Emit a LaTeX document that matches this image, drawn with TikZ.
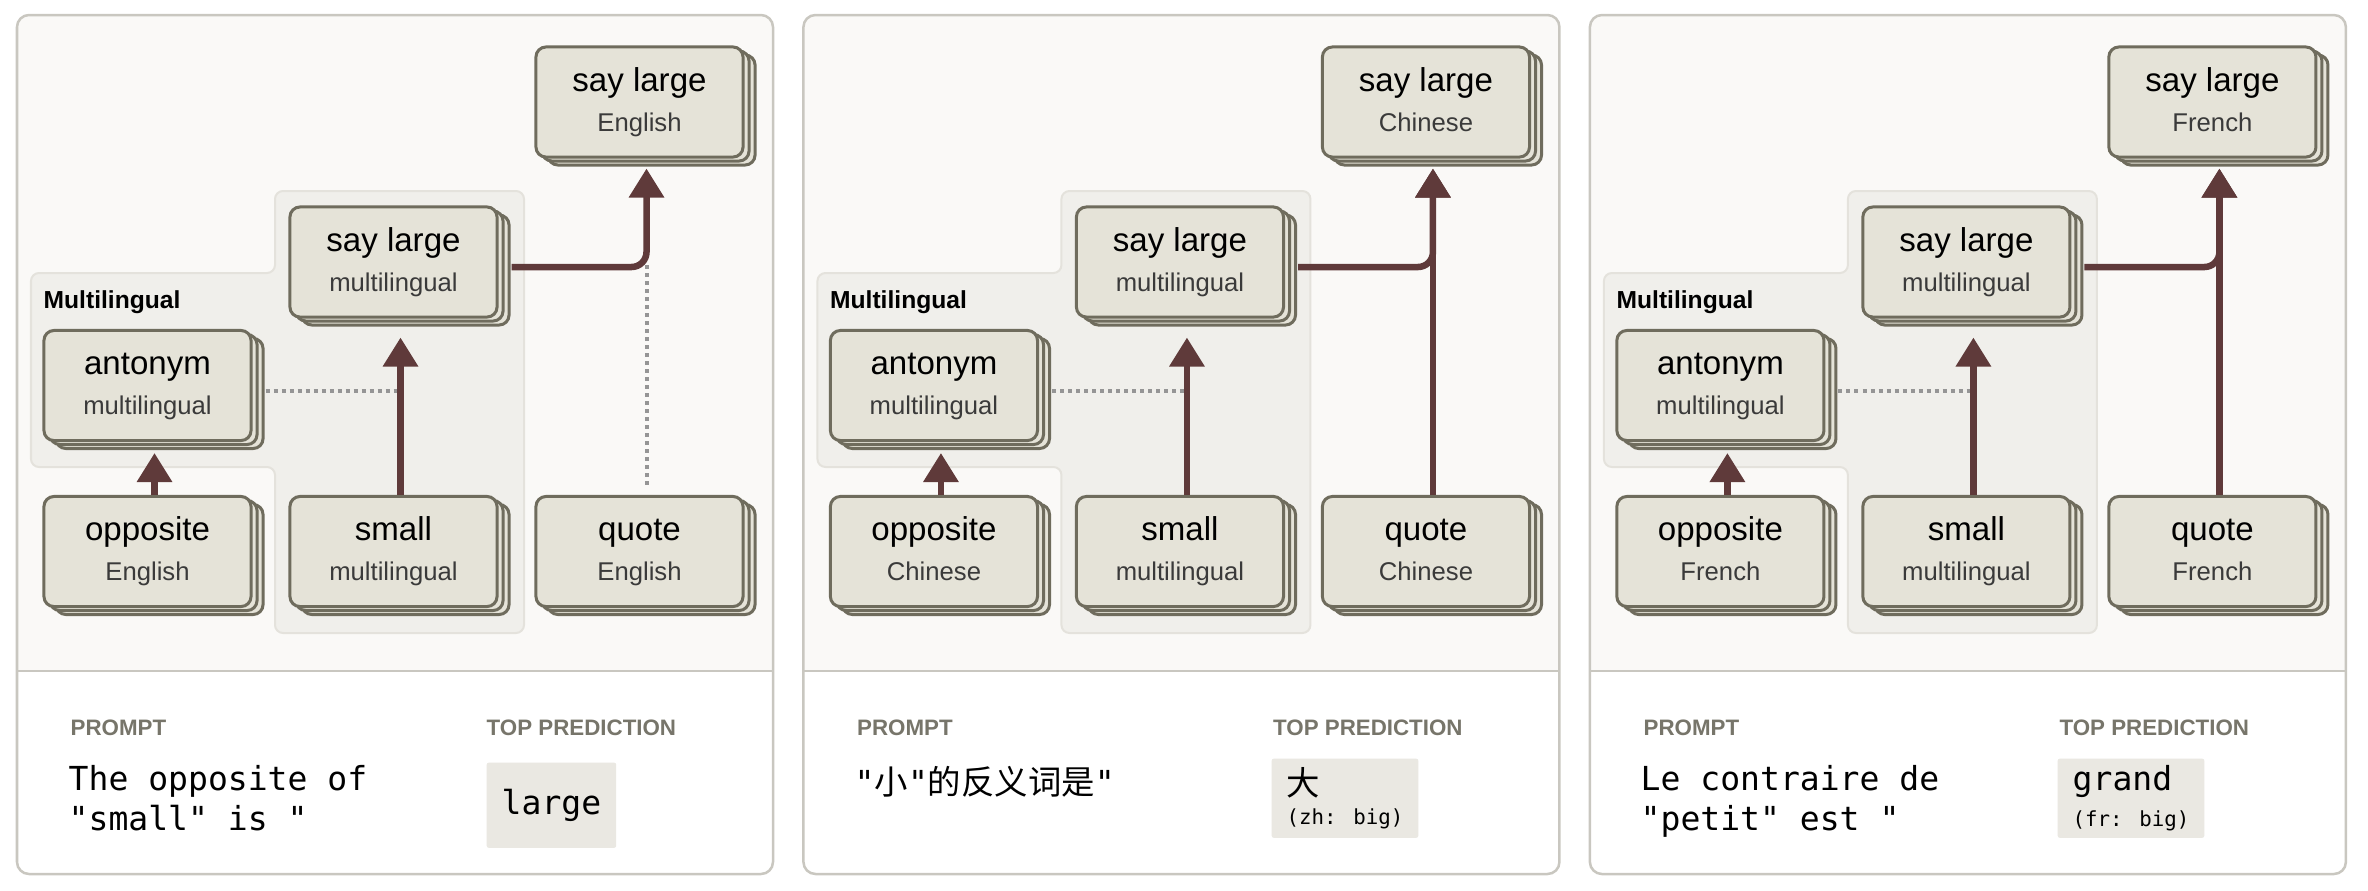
\documentclass[tikz,border=0pt]{standalone}
\usepackage{fontspec}
\usepackage{tikz}
\usetikzlibrary{arrows.meta,shadows}
\setmainfont{Liberation Sans}
\newfontfamily\promptfont{DejaVu Sans Mono}
\newfontfamily\cjkfont{Noto Sans CJK SC}

\definecolor{panelbg}{HTML}{FAF9F7}
\definecolor{framec}{HTML}{C9C7C0}
\definecolor{groupfill}{HTML}{F0EFEB}
\definecolor{groupline}{HTML}{E4E2DC}
\definecolor{boxfill}{HTML}{E5E3D8}
\definecolor{boxline}{HTML}{6F6C5D}
\definecolor{subtext}{HTML}{3A3A3A}
\definecolor{arrowc}{HTML}{5F3A3A}
\definecolor{dotc}{HTML}{959595}
\definecolor{headc}{HTML}{77756A}
\definecolor{predbg}{HTML}{EAE8E2}

% two lines of a feature box
\newcommand{\feattext}[2]{\rule{0pt}{7.2pt}#1\\\fontsize{7.3}{11.4}\selectfont\color{subtext}#2\rule[-2pt]{0pt}{2pt}}
\newcommand{\cjk}[1]{{\cjkfont\fontsize{9.5}{11.1}\selectfont #1}}

\tikzset{
  feat/.style={draw=boxline, line width=0.03cm, fill=boxfill, rounded corners=0.1cm,
    minimum width=2.07cm, minimum height=1.1cm, inner sep=0pt, align=center,
    font=\fontsize{9.4}{11.4}\selectfont,
    copy shadow={shadow xshift=0.12cm, shadow yshift=-0.08cm, draw=boxline, fill=boxfill, line width=0.03cm},
    copy shadow={shadow xshift=0.06cm, shadow yshift=-0.04cm, draw=boxline, fill=boxfill, line width=0.03cm}},
  arr/.style={draw=arrowc, line width=0.065cm, -{Triangle[length=0.29cm,width=0.34cm]}},
  dots/.style={draw=dotc, line width=0.04cm, dash pattern=on 0.04cm off 0.04cm},
  group/.style={fill=groupfill, draw=groupline, line width=0.02cm, rounded corners=0.08cm},
  frame/.style={draw=framec, line width=0.025cm},
  grouplabel/.style={anchor=base west, inner sep=0pt, font=\bfseries\fontsize{7}{8}\selectfont},
  head/.style={anchor=base west, inner sep=0pt, text=headc, font=\bfseries\fontsize{6.35}{8}\selectfont},
  prompt/.style={anchor=base west, inner sep=0pt, align=left, font=\promptfont\fontsize{9.4}{11.1}\selectfont},
  pred/.style={anchor=north west, fill=predbg, rounded corners=0.02cm, inner xsep=0.15cm, inner ysep=0pt,
    minimum height=0.79cm, align=left, font=\promptfont\fontsize{9.4}{10}\selectfont}
}

\begin{document}
\begin{tikzpicture}[x=0.01cm,y=-0.01cm]
  \useasboundingbox (0,0) rectangle (2368,890);

  \foreach \n/\lang in {0/English,1/Chinese,2/French}{
    \begin{scope}[xshift=\n*7.86cm]
      % panel
      \begin{scope}
        \clip[rounded corners=0.12cm] (17,15) rectangle (773,874);
        \fill[white] (17,15) rectangle (773,874);
        \fill[panelbg] (17,15) rectangle (773,671);
      \end{scope}
      \draw[frame, rounded corners=0.12cm] (17,15) rectangle (773,874);
      \draw[frame] (17,671) -- (773,671);

      % multilingual group
      \draw[group] (31,273) -- (275,273) -- (275,191) -- (524,191) -- (524,633)
        -- (275,633) -- (275,467) -- (31,467) -- cycle;
      \node[grouplabel] (mlab\n) at (43,308) {Multilingual};

      \node[feat] (top\n) at (639.5,102) {\feattext{say large}{\lang}};
      \node[feat] (ml\n) at (393.5,262) {\feattext{say large}{multilingual}};
      \node[feat] (ant\n) at (147.5,385.5) {\feattext{antonym}{multilingual}};
      \node[feat] (opp\n) at (147.5,551.5) {\feattext{opposite}{\lang}};
      \node[feat] (small\n) at (393.5,551.5) {\feattext{small}{multilingual}};
      \node[feat] (quote\n) at (639.5,551.5) {\feattext{quote}{\lang}};

      \coordinate (sa\n) at ([xshift=0.07cm]small\n.north);
      \coordinate (qa\n) at ([xshift=0.07cm]quote\n.north);
      \coordinate (dl\n) at ([xshift=0.13cm,yshift=-0.05cm]ant\n.east);
      \draw[dots] (dl\n) -- (dl\n -| sa\n);
      \ifnum\n=0
        \draw[dots, shorten <=0.1cm] (qa\n) -- (qa\n |- ml\n.east);
      \else
        \draw[arr, shorten >=0.1cm] (qa\n) -- ([xshift=0.07cm]top\n.south);
      \fi
      \draw[arr, shorten >=0.11cm] ([xshift=0.07cm]opp\n.north) -- ([xshift=0.07cm]ant\n.south);
      \draw[arr, shorten >=0.19cm] (sa\n) -- ([xshift=0.07cm]ml\n.south);
      \draw[arr, rounded corners=0.15cm, shorten >=0.1cm]
        ([xshift=0.13cm,yshift=-0.05cm]ml\n.east) -| ([xshift=0.07cm]top\n.south);

      \node[head] (ph\n) at (70,735) {PROMPT};
      \node[head] (tp\n) at (486,735) {TOP PREDICTION};
    \end{scope}
  }

  \node[prompt] (prompt0) at (68,830) {The opposite of\\"small" is "};
  \node[pred, minimum height=0.85cm] (pred0) at (486,762) {large};

  \node[prompt] (prompt1) at (854,794) {"\cjk{小}"\cjk{的反义词是}"};
  \node[pred, font=\promptfont\fontsize{9.4}{8.5}\selectfont] (pred1) at (1271,758)
    {\cjk{大}\\{\fontsize{5.9}{8}\selectfont (zh: big)}};

  \node[prompt] (prompt2) at (1640,830) {Le contraire de\\"petit" est "};
  \node[pred] (pred2) at (2057,758) {grand\\{\fontsize{5.9}{8}\selectfont (fr: big)}};
\end{tikzpicture}
\end{document}
